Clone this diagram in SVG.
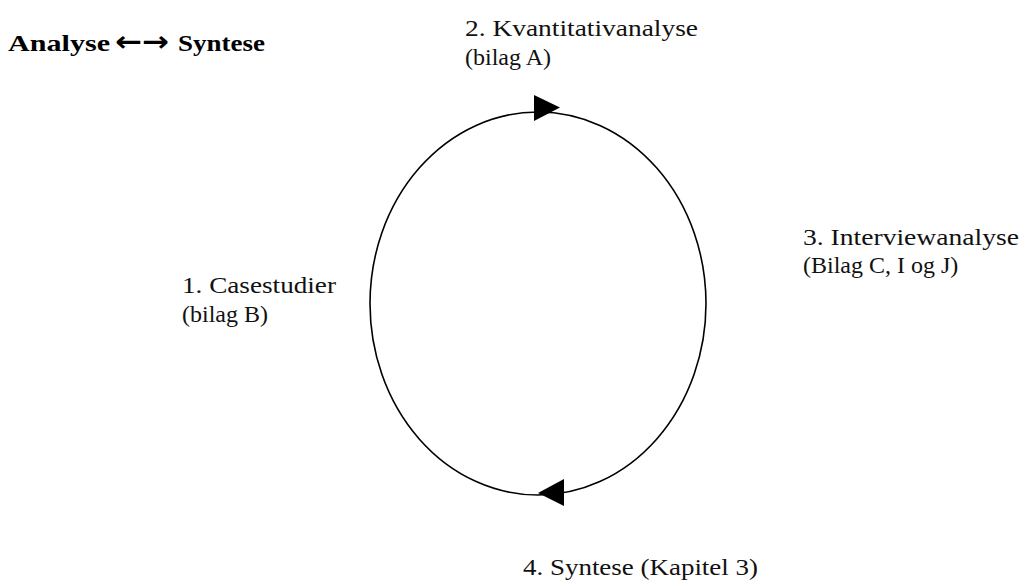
<svg xmlns="http://www.w3.org/2000/svg" width="1021" height="584" viewBox="0 0 1021 584">
  <style>
    .lbl { font-family: "Liberation Serif", "Times New Roman", serif; font-size: 24px; fill: #111; }
    .ttl { font-family: "Liberation Serif", "Times New Roman", serif; font-size: 23px; font-weight: bold; fill: #000; }
    .arr { font-family: "DejaVu Sans", sans-serif; font-size: 28px; font-weight: bold; fill: #000; }
    .ring { fill: none; stroke: #000; stroke-width: 1.6; }
    .head { fill: #000; }
  </style>
  <rect width="1021" height="584" fill="#fff"/>

  <g id="title">
    <text class="ttl" x="8" y="51" textLength="102" lengthAdjust="spacingAndGlyphs">Analyse</text>
    <text class="arr" x="115" y="51" textLength="54" lengthAdjust="spacingAndGlyphs">←→</text>
    <text class="ttl" x="178" y="51" textLength="87" lengthAdjust="spacingAndGlyphs">Syntese</text>
  </g>

  <g id="connectors">
    <ellipse class="ring" cx="538" cy="303.5" rx="168" ry="191.5"/>
    <polygon class="head" points="534,95 560,107.5 534,121"/>
    <polygon class="head" points="564,479 538,493 564,506"/>
  </g>

  <g id="node-1">
    <text class="lbl" x="182" y="293" textLength="154" lengthAdjust="spacingAndGlyphs">1. Casestudier</text>
    <text class="lbl" x="182" y="322">(bilag B)</text>
  </g>

  <g id="node-2">
    <text class="lbl" x="465" y="36" textLength="233" lengthAdjust="spacingAndGlyphs">2. Kvantitativanalyse</text>
    <text class="lbl" x="465" y="65">(bilag A)</text>
  </g>

  <g id="node-3">
    <text class="lbl" x="803" y="245" textLength="216" lengthAdjust="spacingAndGlyphs">3. Interviewanalyse</text>
    <text class="lbl" x="803" y="273">(Bilag C, I og J)</text>
  </g>

  <g id="node-4">
    <text class="lbl" x="523" y="575" textLength="235" lengthAdjust="spacingAndGlyphs">4. Syntese (Kapitel 3)</text>
  </g>
</svg>
